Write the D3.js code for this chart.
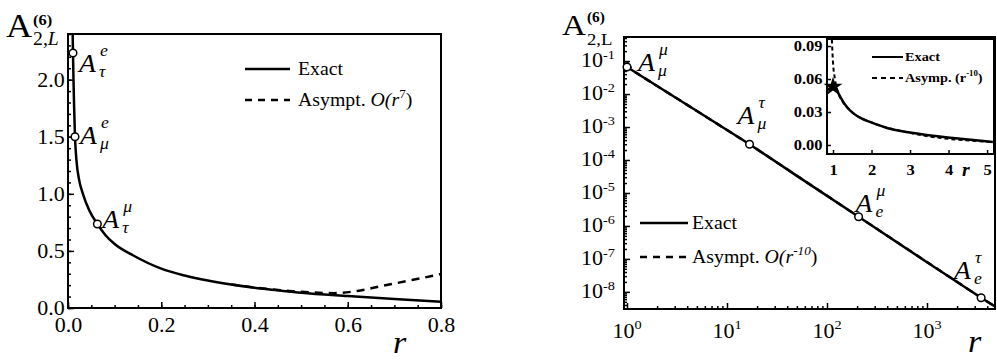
<!DOCTYPE html>
<html>
<head>
<meta charset="utf-8">
<script src="https://cdn.jsdelivr.net/npm/d3@7"></script>
<style>
  body { margin: 0; background: #fff; }
  svg { display: block; font-family: "Liberation Serif", "Times New Roman", serif; }
  text { font-family: "Liberation Serif", "Times New Roman", serif; fill: #000; }
</style>
</head>
<body>
<div id="chart"></div>
<script>
// ---------- data ----------
// left panel: A vs r (linear)
const leftExactR = [0.0100, 0.0107, 0.0118, 0.0132, 0.015, 0.018, 0.024, 0.032, 0.045, 0.063, 0.08, 0.10, 0.14, 0.20, 0.25, 0.30, 0.35, 0.40, 0.45, 0.50, 0.60, 0.70, 0.80];
const leftExactA = [2.40, 2.23, 2.00, 1.75, 1.50, 1.30, 1.12, 1.00, 0.86, 0.736, 0.64, 0.56, 0.46, 0.345, 0.285, 0.240, 0.205, 0.177, 0.155, 0.134, 0.105, 0.079, 0.055];
const leftAsymR = [0.35, 0.40, 0.45, 0.52, 0.57, 0.62, 0.67, 0.727, 0.78, 0.80];
const leftAsymA = [0.207, 0.179, 0.157, 0.137, 0.130, 0.149, 0.190, 0.236, 0.280, 0.298];
const leftPointR = [0.0107, 0.015, 0.063];
const leftPointA = [2.233, 1.50, 0.736];
const leftPointSup = ["e", "e", "μ"];
const leftPointSub = ["τ", "μ", "τ"];
const leftXTicks = [0, 0.2, 0.4, 0.6, 0.8];
const leftYTicks = [0, 0.5, 1.0, 1.5, 2.0];

// right panel: A vs r (log-log)
const rightExactR = [1, 2, 5, 10, 16.8, 50, 207, 1000, 3477, 4786];
const rightExactA = [0.066, 0.0176, 0.00305, 8.1e-4, 3.0e-4, 3.3e-5, 1.9e-6, 7.9e-8, 6.6e-9, 3.6e-9];
const rightAsymR = [1.0, 1.05, 1.13, 1.3, 2, 5, 16.8, 207, 3477, 4786];
const rightAsymA = [0.09, 0.075, 0.052, 0.040, 0.0176, 0.00305, 3.0e-4, 1.9e-6, 6.6e-9, 3.6e-9];
const rightPointR = [1, 16.8, 207, 3477];
const rightPointA = [0.066, 3.0e-4, 1.9e-6, 6.6e-9];
const rightPointSup = ["μ", "τ", "μ", "τ"];
const rightPointSub = ["μ", "μ", "e", "e"];
const rightXExp = [0, 1, 2, 3];
const rightYExp = [-1, -2, -3, -4, -5, -6, -7, -8];

// inset: A vs r (linear)
const insetExactR = [0.85, 0.95, 1.0, 1.05, 1.1, 1.2, 1.36, 1.52, 1.75, 1.96, 2.4, 3.26, 4.12, 5.15];
const insetExactA = [0.050, 0.052, 0.053, 0.054, 0.050, 0.043, 0.0345, 0.029, 0.024, 0.021, 0.0155, 0.010, 0.0064, 0.0027];
const insetAsymR = [0.97, 1.0, 1.05, 1.13, 1.26, 1.4, 1.6, 2.0, 3.0, 5.15];
const insetAsymA = [0.096, 0.075, 0.060, 0.048, 0.039, 0.033, 0.027, 0.0205, 0.011, 0.0027];
const insetXTicks = [1, 2, 3, 4, 5];
const insetYTicks = [0, 0.03, 0.06, 0.09];

// ---------- canvas ----------
const SX = 1.1; // the scan is a little wider than Times
const svg = d3.select("#chart").append("svg")
  .attr("width", 997).attr("height", 362);

function zip(a, b) { return a.map((d, i) => [d, b[i]]); }

// text helper with horizontal stretch
function txt(g, x, y, size) {
  return g.append("text")
    .attr("transform", "translate(" + x + "," + y + ") scale(" + SX + ",1)")
    .attr("font-size", size);
}

// A with super/sub script label
function aLabel(g, x, y, sup, sub) {
  txt(g, x, y, 25).attr("font-style", "italic").text("A");
  txt(g, x + 21, y - 16, 16).attr("font-style", "italic").text(sup);
  txt(g, x + 20, y + 5, 16).attr("font-style", "italic").text(sub);
}

function styleAxis(sel, size) {
  sel.select(".domain").remove();
  sel.selectAll("line").attr("stroke", "#000").attr("stroke-width", 1.5);
  sel.selectAll("text")
    .attr("font-size", size)
    .attr("font-family", "Liberation Serif, serif")
    .attr("transform", "scale(" + SX + ",1)");
}

// ================= LEFT PANEL =================
const L = { x0: 68, x1: 441, y0: 308, y1: 34 };
const xL = d3.scaleLinear().domain([0, 0.8]).range([L.x0, L.x1]);
const yL = d3.scaleLinear().domain([0, 2.4]).range([L.y0, L.y1]);
const gL = svg.append("g");

svg.append("clipPath").attr("id", "clipL").append("rect")
  .attr("x", L.x0).attr("y", L.y1).attr("width", L.x1 - L.x0).attr("height", L.y0 - L.y1);

// minor ticks
gL.append("g").attr("transform", "translate(0," + L.y0 + ")")
  .call(d3.axisBottom(xL).tickValues(d3.range(0, 0.81, 0.05)).tickSize(-3).tickFormat(""))
  .call(s => styleAxis(s, 20));
gL.append("g").attr("transform", "translate(" + L.x0 + ",0)")
  .call(d3.axisLeft(yL).tickValues(d3.range(0, 2.41, 0.1)).tickSize(-3).tickFormat(""))
  .call(s => styleAxis(s, 20));
// major ticks
gL.append("g").attr("transform", "translate(0," + L.y0 + ")")
  .call(d3.axisBottom(xL).tickValues(leftXTicks).tickSize(-6).tickPadding(10).tickFormat(d3.format(".1f")))
  .call(s => styleAxis(s, 20));
gL.append("g").attr("transform", "translate(" + L.x0 + ",0)")
  .call(d3.axisLeft(yL).tickValues(leftYTicks).tickSize(-6).tickPadding(3).tickFormat(d3.format(".1f")))
  .call(s => styleAxis(s, 20));

gL.append("rect").attr("x", L.x0).attr("y", L.y1)
  .attr("width", L.x1 - L.x0).attr("height", L.y0 - L.y1)
  .attr("fill", "none").attr("stroke", "#000").attr("stroke-width", 2);

const lineL = d3.line().x(d => xL(d[0])).y(d => yL(d[1])).curve(d3.curveMonotoneX);
gL.append("path").datum(zip(leftAsymR, leftAsymA))
  .attr("clip-path", "url(#clipL)")
  .attr("d", lineL).attr("fill", "none").attr("stroke", "#000")
  .attr("stroke-width", 2.5).attr("stroke-dasharray", "8,6");
gL.append("path").datum(zip(leftExactR, leftExactA))
  .attr("clip-path", "url(#clipL)")
  .attr("d", lineL).attr("fill", "none").attr("stroke", "#000").attr("stroke-width", 2.5);

gL.selectAll("circle.pt").data(zip(leftPointR, leftPointA)).join("circle")
  .attr("class", "pt")
  .attr("cx", d => xL(d[0])).attr("cy", d => yL(d[1])).attr("r", 3.8)
  .attr("fill", "#fff").attr("stroke", "#000").attr("stroke-width", 1.5);

const leftLabOff = [[6, 19], [5, 7], [5, 4]];
leftPointR.forEach((r, i) => {
  aLabel(gL, xL(r) + leftLabOff[i][0], yL(leftPointA[i]) + leftLabOff[i][1], leftPointSup[i], leftPointSub[i]);
});

// legend
gL.append("line").attr("x1", 245).attr("x2", 290).attr("y1", 69).attr("y2", 69)
  .attr("stroke", "#000").attr("stroke-width", 2.5);
gL.append("line").attr("x1", 245).attr("x2", 290).attr("y1", 100).attr("y2", 100)
  .attr("stroke", "#000").attr("stroke-width", 2.5).attr("stroke-dasharray", "7,6");
txt(gL, 298, 75, 18).text("Exact");
const lg2 = txt(gL, 298, 106, 18);
lg2.append("tspan").text("Asympt.  ");
lg2.append("tspan").attr("font-style", "italic").text("O(r");
lg2.append("tspan").attr("font-size", 12).attr("dy", -8).text("7");
lg2.append("tspan").attr("dy", 8).text(")");

// axis titles
txt(gL, 6, 37, 33).text("A");
txt(gL, 33, 25, 15).attr("font-weight", "bold").text("(6)");
const yt = txt(gL, 33, 45, 18);
yt.append("tspan").text("2,");
yt.append("tspan").attr("font-style", "italic").text("L");
txt(gL, 393, 353, 31).attr("font-style", "italic").text("r");

// ================= RIGHT PANEL =================
const R = { x0: 624, x1: 995, y0: 309, y1: 37 };
const xR = d3.scaleLog().domain([Math.pow(10, -0.03), Math.pow(10, 3.68)]).range([R.x0, R.x1]);
const yR = d3.scaleLog().domain([Math.pow(10, -8.52), Math.pow(10, -0.27)]).range([R.y0, R.y1]);
const gR = svg.append("g");

svg.append("clipPath").attr("id", "clipR").append("rect")
  .attr("x", R.x0).attr("y", R.y1).attr("width", R.x1 - R.x0).attr("height", R.y0 - R.y1);

const minorX = [], minorY = [];
for (let e = 0; e <= 3; e++) for (let k = 2; k <= 9; k++) {
  const v = k * Math.pow(10, e);
  if (xR(v) < R.x1) minorX.push(v);
}
for (let e = -9; e <= -1; e++) for (let k = 2; k <= 9; k++) {
  const v = k * Math.pow(10, e);
  if (yR(v) < R.y0 && yR(v) > R.y1) minorY.push(v);
}
gR.append("g").attr("transform", "translate(0," + R.y0 + ")")
  .call(d3.axisBottom(xR).tickValues(minorX).tickSize(-3).tickFormat(""))
  .call(s => styleAxis(s, 18));
gR.append("g").attr("transform", "translate(" + R.x0 + ",0)")
  .call(d3.axisLeft(yR).tickValues(minorY).tickSize(-3).tickFormat(""))
  .call(s => styleAxis(s, 18));
gR.append("g").attr("transform", "translate(0," + R.y0 + ")")
  .call(d3.axisBottom(xR).tickValues(rightXExp.map(e => Math.pow(10, e))).tickSize(-6).tickFormat(""))
  .call(s => styleAxis(s, 18));
gR.append("g").attr("transform", "translate(" + R.x0 + ",0)")
  .call(d3.axisLeft(yR).tickValues(rightYExp.map(e => Math.pow(10, e))).tickSize(-6).tickFormat(""))
  .call(s => styleAxis(s, 18));

// power-of-ten labels
rightYExp.forEach(e => {
  const t = txt(gR, R.x0 - 9, yR(Math.pow(10, e)) + 6, 20).attr("text-anchor", "end");
  t.append("tspan").text("10");
  t.append("tspan").attr("font-size", 13).attr("dy", -8).text(String(e));
});
rightXExp.forEach(e => {
  const t = txt(gR, xR(Math.pow(10, e)), 338, 20).attr("text-anchor", "middle");
  t.append("tspan").text("10");
  t.append("tspan").attr("font-size", 13).attr("dy", -9).text(e);
});

gR.append("rect").attr("x", R.x0).attr("y", R.y1)
  .attr("width", R.x1 - R.x0).attr("height", R.y0 - R.y1)
  .attr("fill", "none").attr("stroke", "#000").attr("stroke-width", 2);

const lineR = d3.line().x(d => xR(d[0])).y(d => yR(d[1]));
gR.append("path").datum(zip(rightAsymR, rightAsymA))
  .attr("clip-path", "url(#clipR)")
  .attr("d", lineR).attr("fill", "none").attr("stroke", "#000")
  .attr("stroke-width", 2.5).attr("stroke-dasharray", "7,5");
gR.append("path").datum(zip(rightExactR, rightExactA))
  .attr("clip-path", "url(#clipR)")
  .attr("d", lineR).attr("fill", "none").attr("stroke", "#000").attr("stroke-width", 2.5);

gR.selectAll("circle.pt").data(zip(rightPointR, rightPointA)).join("circle")
  .attr("class", "pt")
  .attr("cx", d => xR(d[0])).attr("cy", d => yR(d[1])).attr("r", 3.8)
  .attr("fill", "#fff").attr("stroke", "#000").attr("stroke-width", 1.5);

const rightLabOff = [[11, 4], [-12, -20], [-3, -5], [-27, -19]];
rightPointR.forEach((r, i) => {
  aLabel(gR, xR(r) + rightLabOff[i][0], yR(rightPointA[i]) + rightLabOff[i][1], rightPointSup[i], rightPointSub[i]);
});

// legend
gR.append("line").attr("x1", 640).attr("x2", 688).attr("y1", 223).attr("y2", 223)
  .attr("stroke", "#000").attr("stroke-width", 2.5);
gR.append("line").attr("x1", 640).attr("x2", 688).attr("y1", 257).attr("y2", 257)
  .attr("stroke", "#000").attr("stroke-width", 2.5).attr("stroke-dasharray", "7,6");
txt(gR, 692, 229, 18).text("Exact");
const lg3 = txt(gR, 692, 263, 18);
lg3.append("tspan").text("Asympt.  ");
lg3.append("tspan").attr("font-style", "italic").text("O(r");
lg3.append("tspan").attr("font-style", "italic").attr("font-size", 12).attr("dy", -8).text("-10");
lg3.append("tspan").attr("dy", 8).text(")");

// axis titles
txt(gR, 562, 35, 30).text("A");
txt(gR, 587, 22, 14).attr("font-weight", "bold").text("(6)");
txt(gR, 587, 45, 17).text("2,L");
txt(gR, 968, 352, 31).attr("font-style", "italic").text("r");

// ================= INSET =================
const I = { x0: 827, x1: 994, y0: 154, y1: 39 };
const xI = d3.scaleLinear().domain([0.844, 5.18]).range([I.x0, I.x1]);
const yI = d3.scaleLinear().domain([-0.0082, 0.0964]).range([I.y0, I.y1]);
const gI = svg.append("g");

svg.append("clipPath").attr("id", "clipI").append("rect")
  .attr("x", I.x0).attr("y", I.y1).attr("width", I.x1 - I.x0).attr("height", I.y0 - I.y1);

gI.append("rect").attr("x", I.x0).attr("y", I.y1)
  .attr("width", I.x1 - I.x0).attr("height", I.y0 - I.y1).attr("fill", "#fff");

gI.append("g").attr("transform", "translate(0," + I.y0 + ")")
  .call(d3.axisBottom(xI).tickValues(insetXTicks).tickSize(-4).tickPadding(10).tickFormat(d3.format("d")))
  .call(s => styleAxis(s, 15))
  .call(s => s.selectAll("text").attr("font-weight", "bold"));
gI.append("g").attr("transform", "translate(" + I.x0 + ",0)")
  .call(d3.axisLeft(yI).tickValues(insetYTicks).tickSize(-4).tickPadding(4).tickFormat(d3.format(".2f")))
  .call(s => styleAxis(s, 15))
  .call(s => s.selectAll("text").attr("font-weight", "bold"));

gI.append("rect").attr("x", I.x0).attr("y", I.y1)
  .attr("width", I.x1 - I.x0).attr("height", I.y0 - I.y1)
  .attr("fill", "none").attr("stroke", "#000").attr("stroke-width", 2);

const lineI = d3.line().x(d => xI(d[0])).y(d => yI(d[1])).curve(d3.curveMonotoneX);
gI.append("path").datum(zip(insetAsymR, insetAsymA))
  .attr("clip-path", "url(#clipI)")
  .attr("d", lineI).attr("fill", "none").attr("stroke", "#000")
  .attr("stroke-width", 2).attr("stroke-dasharray", "4,3");
gI.append("path").datum(zip(insetExactR, insetExactA))
  .attr("clip-path", "url(#clipI)")
  .attr("d", lineI).attr("fill", "none").attr("stroke", "#000").attr("stroke-width", 2.5);

// filled star at r = 1
gI.append("path")
  .attr("d", d3.symbol(d3.symbolStar).size(110)())
  .attr("transform", "translate(" + xI(rightPointR[0]) + "," + yI(insetExactA[2]) + ")")
  .attr("fill", "#000");

// inset legend
gI.append("line").attr("x1", 872).attr("x2", 903).attr("y1", 57).attr("y2", 57)
  .attr("stroke", "#000").attr("stroke-width", 2);
gI.append("line").attr("x1", 872).attr("x2", 903).attr("y1", 78).attr("y2", 78)
  .attr("stroke", "#000").attr("stroke-width", 2).attr("stroke-dasharray", "5,4");
txt(gI, 905, 61, 13).attr("font-weight", "bold").text("Exact");
const lg4 = txt(gI, 905, 82, 13).attr("font-weight", "bold");
lg4.append("tspan").text("Asymp. (r");
lg4.append("tspan").attr("font-size", 8).attr("dy", -6).text("-10");
lg4.append("tspan").attr("dy", 6).text(")");
txt(gI, 962, 176, 18).attr("font-style", "italic").attr("font-weight", "bold").text("r");
</script>
</body>
</html>
